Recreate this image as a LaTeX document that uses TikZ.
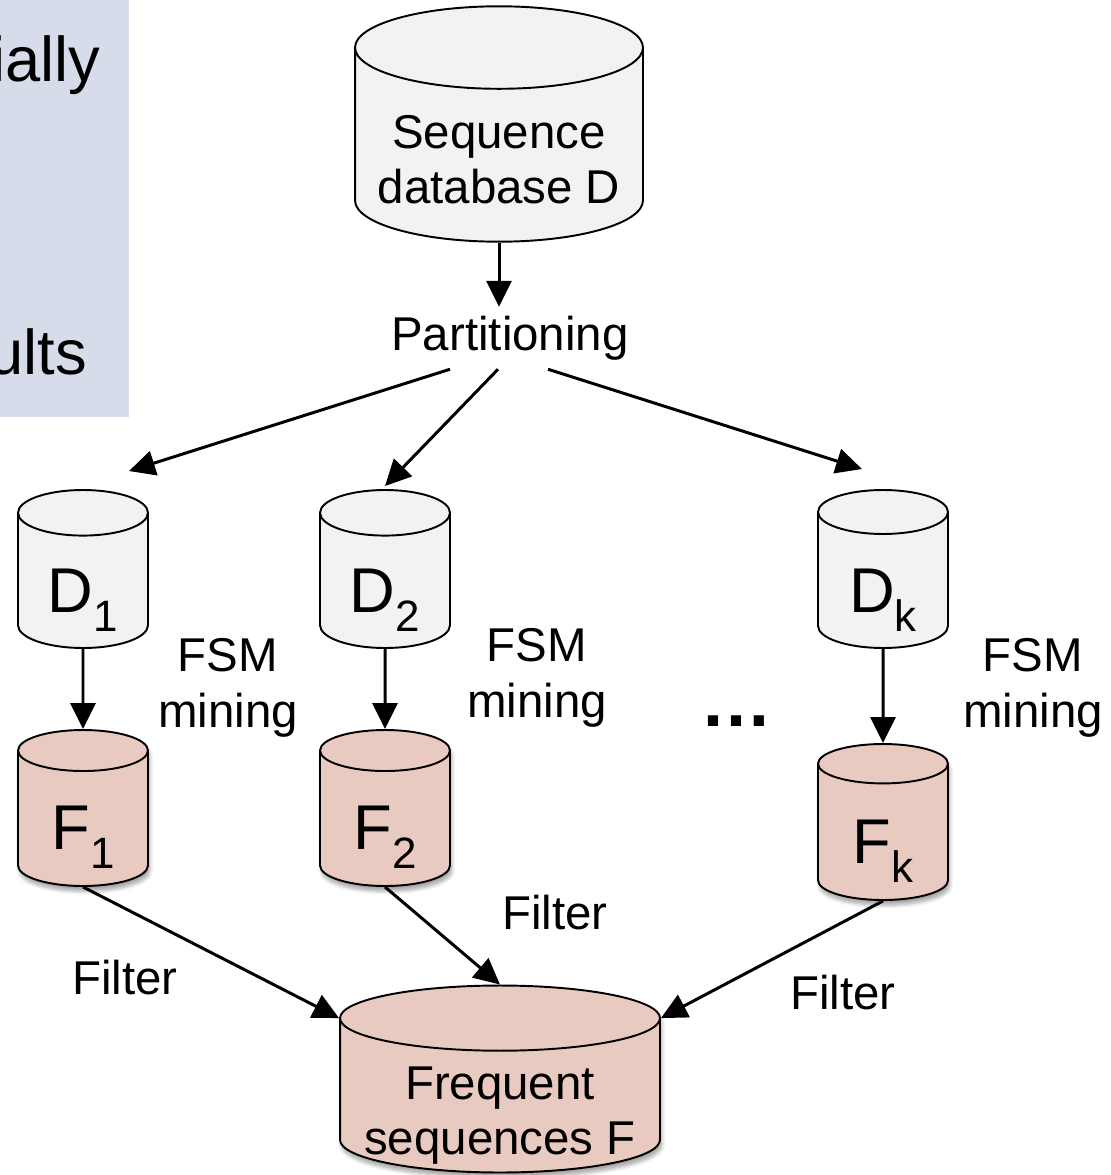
\documentclass[tikz,border=0pt]{standalone}
\usepackage{fontspec}
\setmainfont{Liberation Sans}
\usetikzlibrary{shapes.geometric,arrows.meta,shadows.blur}
\definecolor{boxblue}{RGB}{214,220,233}
\definecolor{dbgrey}{RGB}{242,242,242}
\definecolor{dbpink}{RGB}{233,202,192}
\tikzset{
  db/.style={cylinder, shape border rotate=90, draw, line width=1.1pt, fill=#1, inner sep=0pt, anchor=shape center},
  dbshadow/.style={blur shadow={shadow xshift=1pt, shadow yshift=-3pt, shadow blur steps=6, shadow opacity=35}},
  lbl/.style={align=center, inner sep=0pt}
}
\newcommand\dsub[1]{\raisebox{-.3em}{\fontsize{25}{25}\selectfont #1}}
\newcommand\lowtext[2]{\raisebox{-#1}[\height][\depth]{\begin{tabular}{@{}c@{}}#2\end{tabular}}}
\begin{document}
\begin{tikzpicture}[font=\fontsize{27}{31.5}\selectfont, line join=round, >={Triangle[length=0.52cm,width=0.5cm]}, x=0.02cm, y=-0.02cm]
\useasboundingbox (0,0) rectangle (1110,1175);
\clip (0,0) rectangle (1110,1175);
% left panel, cut off
\fill[boxblue] (-20,0) rectangle (129,417);
\node[anchor=base east, inner sep=0pt, font=\fontsize{36}{40}\selectfont] (tA) at (101,82) {ially};
\node[anchor=base east, inner sep=0pt, font=\fontsize{36}{40}\selectfont] (tB) at (87,375) {ults};
% databases
\node[db=dbgrey, minimum width=5.76cm, minimum height=4.66cm, aspect=0.34] (db) at (499,124) {\lowtext{0.4cm}{Sequence\\database D}};
\node[inner sep=5pt] (part) at (510,338) {Partitioning};
\foreach \n/\x/\t in {d1/83/1, d2/385/2, dk/883/k}
  \node[db=dbgrey, minimum width=2.6cm, minimum height=3.16cm, aspect=0.65, font=\fontsize{36}{40}\selectfont] (\n) at (\x,569) {\lowtext{0.36cm}{D\dsub{\t}}};
\foreach \n/\x/\y/\t in {f1/83/808/1, f2/385/808/2, fk/883/822/k}
  \node[db=dbpink, dbshadow, minimum width=2.6cm, minimum height=3.12cm, aspect=0.65, font=\fontsize{36}{40}\selectfont] (\n) at (\x,\y) {\lowtext{0.34cm}{F\dsub{\t}}};
\node[db=dbpink, dbshadow, minimum width=6.4cm, minimum height=3.74cm, aspect=0.24] (freq) at (500,1079) {\raisebox{-0.62cm}[18pt][18pt]{\begin{tabular}{@{}c@{}}Frequent\\sequences F\end{tabular}}};
% arrows
\draw[->, line width=1.7pt] (db.south) -- (db.south |- part.north);
\draw[->, line width=1.7pt] ([xshift=-1.2cm]part.south) -- ([xshift=0.92cm,yshift=0.36cm]d1.north);
\draw[->, line width=1.7pt] ([xshift=-0.24cm]part.south) -- ([yshift=0.06cm]d2.north);
\draw[->, line width=1.7pt] ([xshift=0.76cm]part.south) -- ([xshift=-0.42cm,yshift=0.4cm]dk.north);
\foreach \n in {1,2,k}
  \draw[->, line width=1.7pt] (d\n.south) -- (f\n.north);
\draw[->, line width=1.7pt] (f1.south) -- (freq.before top);
\draw[->, line width=1.7pt] (f2.south) -- (freq.north);
\draw[->, line width=1.7pt] (fk.south) -- (freq.after top);
% labels
\node[lbl] (m1) at (228,688) {FSM\\mining};
\node[lbl] (m2) at (537,678) {FSM\\mining};
\node[lbl] (mk) at (1033,688) {FSM\\mining};
\node[anchor=base, inner sep=0pt, font=\bfseries\fontsize{41}{41}\selectfont] (dots) at (737,726) {…};
\node[lbl] (g1) at (125,978) {Filter};
\node[lbl] (g2) at (555,913) {Filter};
\node[lbl] (gk) at (843,993) {Filter};
\end{tikzpicture}
\end{document}
